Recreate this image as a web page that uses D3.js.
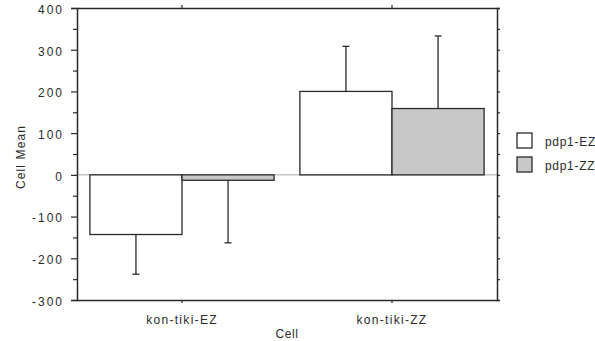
<!DOCTYPE html>
<html>
<head>
<meta charset="utf-8">
<script src="https://cdn.jsdelivr.net/npm/d3@7"></script>
<style>
  body { margin: 0; background: #fff; }
  text { font-family: "Liberation Sans", Arial, sans-serif; fill: #2b2b2b; }
</style>
</head>
<body>
<svg id="chart" width="595" height="341"></svg>
<script>
// data
const categories = ['kon-tiki-EZ', 'kon-tiki-ZZ'];
const seriesNames = ['pdp1-EZ', 'pdp1-ZZ'];
const meanEZ = [-143, 200];
const meanZZ = [-13, 159];
const errEZ = [95, 108];
const errZZ = [150, 174];
const yTicks = [-300, -200, -100, 0, 100, 200, 300, 400];
const yMinorTicks = [-250, -150, -50, 50, 150, 250, 350];

const colors = ['#ffffff', '#c8c8c8'];

const svg = d3.select('#chart');
const plotLeft = 77, plotRight = 497, plotTop = 8, plotBottom = 300;

const x = d3.scaleBand().domain(categories).range([plotLeft, plotRight]);
const xInner = d3.scaleBand().domain(seriesNames).range([0, x.bandwidth()]).paddingOuter(0.14);
const y = d3.scaleLinear().domain([-300, 400]).range([plotBottom, plotTop]);

const rows = [];
categories.forEach(function(c, i) {
  rows.push({ cat: c, s: seriesNames[0], v: meanEZ[i], e: errEZ[i], fill: colors[0] });
  rows.push({ cat: c, s: seriesNames[1], v: meanZZ[i], e: errZZ[i], fill: colors[1] });
});

const stroke = '#2a2a2a';

// zero line
svg.append('line')
  .attr('x1', plotLeft).attr('x2', plotRight)
  .attr('y1', y(0)).attr('y2', y(0))
  .attr('stroke', '#aaa').attr('stroke-width', 1);

// error bars (one-sided, away from zero)
rows.forEach(function(d) {
  const cx = x(d.cat) + xInner(d.s) + xInner.bandwidth() / 2;
  const end = d.v >= 0 ? d.v + d.e : d.v - d.e;
  svg.append('line')
    .attr('x1', cx).attr('x2', cx)
    .attr('y1', y(d.v)).attr('y2', y(end))
    .attr('stroke', stroke).attr('stroke-width', 1.3);
  svg.append('line')
    .attr('x1', cx - 3.5).attr('x2', cx + 3.5)
    .attr('y1', y(end)).attr('y2', y(end))
    .attr('stroke', stroke).attr('stroke-width', 1.3);
});

// bars
svg.selectAll('.bar')
  .data(rows)
  .enter().append('rect')
  .attr('class', 'bar')
  .attr('x', function(d) { return x(d.cat) + xInner(d.s); })
  .attr('width', xInner.bandwidth())
  .attr('y', function(d) { return y(Math.max(0, d.v)); })
  .attr('height', function(d) { return Math.abs(y(d.v) - y(0)); })
  .attr('fill', function(d) { return d.fill; })
  .attr('stroke', stroke)
  .attr('stroke-width', 1.3);

// left axis
const leftAxis = svg.append('g').attr('transform', 'translate(' + plotLeft + ',0)')
  .call(d3.axisLeft(y).tickValues(yTicks).tickSize(6).tickPadding(7)
    .tickFormat(function(d) { return String(d); }));
svg.append('g').attr('transform', 'translate(' + plotLeft + ',0)')
  .call(d3.axisLeft(y).tickValues(yMinorTicks).tickSize(4).tickFormat(''))
  .call(function(g) { g.select('.domain').remove(); });
leftAxis.selectAll('text')
  .attr('dy', '0.45em')
  .style('font-size', '12px').style('letter-spacing', '2px')
  .style('font-family', '"Liberation Sans", Arial, sans-serif').attr('fill', '#2b2b2b');

// right axis
svg.append('g').attr('transform', 'translate(' + plotRight + ',0)')
  .call(d3.axisRight(y).tickValues(yTicks.concat(yMinorTicks)).tickSize(3).tickFormat(''));

// bottom axis
svg.append('g').attr('transform', 'translate(0,' + plotBottom + ')')
  .call(d3.axisBottom(x).tickSize(3).tickSizeOuter(0).tickPadding(12))
  .selectAll('text').style('font-size', '12px').style('letter-spacing', '1.3px')
  .style('font-family', '"Liberation Sans", Arial, sans-serif').attr('fill', '#2b2b2b');

// top axis
svg.append('g').attr('transform', 'translate(0,' + plotTop + ')')
  .call(d3.axisTop(x).tickSize(3).tickSizeOuter(0).tickFormat(''));

svg.selectAll('.domain').attr('stroke', stroke).attr('stroke-width', 1.5);
svg.selectAll('.tick line').attr('stroke', stroke).attr('stroke-width', 1.2);

// axis titles
svg.append('text')
  .attr('transform', 'translate(25,157) rotate(-90)')
  .attr('text-anchor', 'middle')
  .style('font-size', '12px').style('letter-spacing', '1.1px')
  .text('Cell Mean');
svg.append('text')
  .attr('x', (plotLeft + plotRight) / 2).attr('y', 338)
  .attr('text-anchor', 'middle')
  .style('font-size', '12px').style('letter-spacing', '0.6px')
  .text('Cell');

// legend
const legend = svg.append('g').attr('transform', 'translate(517,133)');
seriesNames.forEach(function(s, i) {
  const g = legend.append('g').attr('transform', 'translate(0,' + (i * 24) + ')');
  g.append('rect').attr('width', 15).attr('height', 15)
    .attr('fill', colors[i]).attr('stroke', stroke).attr('stroke-width', 1.3);
  g.append('text').attr('x', 28).attr('y', 13)
    .style('font-size', '12px').style('letter-spacing', '0.7px').text(s);
});
</script>
</body>
</html>
